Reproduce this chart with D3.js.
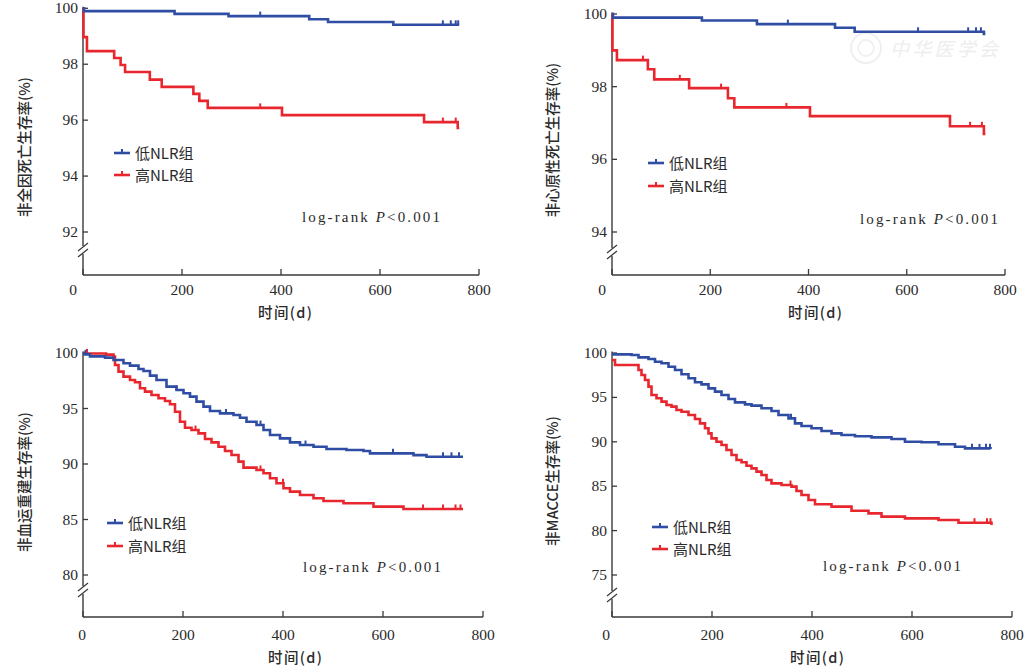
<!DOCTYPE html>
<html>
<head>
<meta charset="utf-8">
<script src="https://cdn.jsdelivr.net/npm/d3@7"></script>
<style>
  html, body { margin: 0; padding: 0; background: #fff; }
  svg { display: block; }
</style>
</head>
<body>
<svg id="chart" width="1031" height="670"></svg>
<script>
// ---------------- DATA ----------------
const xTickValues = [0, 200, 400, 600, 800];
const legendLabels = ["低NLR组", "高NLR组"];
const xTitle = "时间(d)";
const pText = "log-rank ";

// Panel 1: 非全因死亡生存率
const p1Label = "非全因死亡生存率(%)";
const p1YTicks = [92, 94, 96, 98, 100];
const p1LowT = [0, 2, 185, 294, 457, 495, 627, 760];
const p1LowS = [100, 99.9, 99.8, 99.72, 99.61, 99.51, 99.41, 99.41];
const p1LowCensor = [358, 727, 743, 753, 758];
const p1HighT = [0, 1, 8, 63, 76, 85, 135, 159, 223, 235, 252, 402, 689, 757, 760];
const p1HighS = [100, 98.97, 98.47, 98.22, 97.97, 97.72, 97.45, 97.19, 96.94, 96.69, 96.44, 96.18, 95.93, 95.72, 95.72];
const p1HighCensor = [358, 727, 753];

// Panel 2: 非心原性死亡生存率
const p2Label = "非心原性死亡生存率(%)";
const p2YTicks = [94, 96, 98, 100];
const p2LowT = [0, 2, 183, 295, 454, 494, 757, 760];
const p2LowS = [100, 99.9, 99.82, 99.72, 99.62, 99.51, 99.45, 99.45];
const p2LowCensor = [358, 623, 725, 741, 751];
const p2HighT = [0, 1, 10, 73, 86, 157, 236, 249, 403, 688, 757, 760];
const p2HighS = [100, 99.0, 98.73, 98.48, 98.2, 97.96, 97.68, 97.43, 97.19, 96.91, 96.7, 96.7];
const p2HighCensor = [63, 138, 222, 355, 729, 753];

// Panel 3: 非血运重建生存率
const p3Label = "非血运重建生存率(%)";
const p3YTicks = [80, 85, 90, 95, 100];
const p3LowT = [0, 3, 14, 44, 61, 81, 94, 111, 121, 134, 147, 167, 187, 201, 214, 227, 241, 254, 274, 301, 314, 327, 347, 361, 374, 394, 414, 434, 461, 487, 527, 561, 574, 661, 687, 760];
const p3LowS = [100, 99.88, 99.7, 99.58, 99.37, 99.07, 98.86, 98.56, 98.38, 97.96, 97.57, 96.97, 96.67, 96.37, 96.07, 95.62, 95.17, 94.77, 94.56, 94.41, 94.17, 93.81, 93.51, 93.06, 92.61, 92.31, 91.95, 91.71, 91.56, 91.35, 91.26, 91.17, 90.96, 90.8, 90.65, 90.65];
const p3LowCensor = [5, 187, 286, 355, 445, 620, 720, 737, 752];
const p3HighT = [0, 8, 46, 61, 64, 71, 81, 94, 104, 114, 124, 137, 151, 164, 174, 184, 194, 204, 217, 231, 244, 257, 271, 284, 297, 311, 321, 347, 361, 374, 387, 401, 414, 434, 461, 481, 521, 581, 641, 760];
const p3HighS = [100, 99.95, 99.85, 99.67, 98.92, 98.32, 97.87, 97.57, 97.36, 96.82, 96.52, 96.22, 95.92, 95.68, 95.38, 94.71, 93.81, 93.27, 93.06, 92.76, 92.25, 91.95, 91.56, 91.17, 90.81, 90.21, 89.67, 89.46, 89.16, 88.71, 88.26, 87.81, 87.51, 87.21, 86.91, 86.67, 86.46, 86.16, 85.95, 85.95];
const p3HighCensor = [8, 225, 355, 400, 680, 720, 745, 755];

// Panel 4: 非MACCE生存率
const p4Label = "非MACCE生存率(%)";
const p4YTicks = [75, 80, 85, 90, 95, 100];
const p4LowT = [0, 39, 53, 73, 86, 99, 113, 126, 139, 153, 166, 179, 193, 206, 219, 233, 246, 266, 279, 299, 319, 333, 353, 366, 379, 399, 419, 439, 459, 486, 519, 559, 586, 619, 653, 686, 706, 757];
const p4LowS = [99.85, 99.77, 99.51, 99.32, 99.02, 98.84, 98.46, 98.09, 97.6, 97.15, 96.7, 96.47, 96.02, 95.65, 95.27, 94.82, 94.44, 94.22, 94.07, 93.77, 93.47, 93.02, 92.64, 92.08, 91.78, 91.52, 91.22, 90.95, 90.77, 90.62, 90.5, 90.32, 90.01, 89.95, 89.72, 89.45, 89.26, 89.2];
const p4LowCensor = [358, 720, 735, 748, 756];
const p4HighT = [0, 6, 43, 53, 59, 66, 73, 79, 89, 99, 109, 119, 129, 139, 153, 166, 176, 186, 193, 199, 209, 219, 229, 239, 249, 259, 269, 279, 289, 299, 309, 319, 339, 359, 369, 379, 393, 406, 439, 479, 513, 539, 586, 653, 693, 759];
const p4HighS = [99.21, 98.65, 98.65, 98.09, 97.52, 96.96, 96.21, 95.27, 94.9, 94.52, 94.14, 93.96, 93.58, 93.39, 93.02, 92.57, 92.08, 91.52, 90.95, 90.39, 90.01, 89.64, 89.08, 88.51, 87.95, 87.69, 87.31, 87.01, 86.64, 86.26, 85.7, 85.32, 85.14, 84.95, 84.46, 84.01, 83.45, 82.96, 82.7, 82.24, 81.94, 81.57, 81.38, 81.19, 80.89, 80.63];
const p4HighCensor = [357, 725, 750, 757];

// ---------------- LAYOUT ----------------
const BLUE = "#2f4da3";
const RED = "#e8262e";
const AXIS = "#3a3a3a";

const panels = [
  { label: p1Label, yTicks: p1YTicks, low: [p1LowT, p1LowS, p1LowCensor], high: [p1HighT, p1HighS, p1HighCensor],
    x0: 83, x1: 479, yTopVal: 100, yTopPx: 8.3, yBotVal: 92, yBotPx: 232, axisY: 275, breakY: 250,
    zeroShift: -10, tickLblDy: 15, titleY: 313, titleX: 285, ylabX: 25, ylabY: 147,
    legX: 114, legY: 153, legGap: 22, prX: 302, prY: 217 },
  { label: p2Label, yTicks: p2YTicks, low: [p2LowT, p2LowS, p2LowCensor], high: [p2HighT, p2HighS, p2HighCensor],
    x0: 612, x1: 1005, yTopVal: 100, yTopPx: 14, yBotVal: 94, yBotPx: 232, axisY: 275, breakY: 252,
    zeroShift: -10, tickLblDy: 15, titleY: 313, titleX: 815, ylabX: 553, ylabY: 140,
    legX: 648, legY: 163, legGap: 23, prX: 860, prY: 219, watermark: true },
  { label: p3Label, yTicks: p3YTicks, low: [p3LowT, p3LowS, p3LowCensor], high: [p3HighT, p3HighS, p3HighCensor],
    x0: 83, x1: 483, yTopVal: 100, yTopPx: 353, yBotVal: 80, yBotPx: 575, axisY: 617, breakY: 590,
    zeroShift: -1, tickLblDy: 18, titleY: 658, titleX: 295, ylabX: 25, ylabY: 482,
    legX: 107, legY: 523, legGap: 23, prX: 303, prY: 567 },
  { label: p4Label, yTicks: p4YTicks, low: [p4LowT, p4LowS, p4LowCensor], high: [p4HighT, p4HighS, p4HighCensor],
    x0: 612, x1: 1012, yTopVal: 100, yTopPx: 353, yBotVal: 75, yBotPx: 575, axisY: 617, breakY: 595,
    zeroShift: -6, tickLblDy: 18, titleY: 658, titleX: 817, ylabX: 553, ylabY: 481,
    legX: 652, legY: 527, legGap: 22, prX: 823, prY: 566 }
];

const svg = d3.select("#chart");
const NUMFONT = "'Liberation Serif', 'DejaVu Serif', serif";
const CJKFONT = "'Noto Sans CJK SC', 'Noto Sans', sans-serif";

function survAt(T, S, t) {
  let v = S[0];
  for (let i = 0; i < T.length; i++) { if (T[i] <= t) v = S[i]; }
  return v;
}

panels.forEach(p => {
  const g = svg.append("g");
  const x = d3.scaleLinear().domain([0, 800]).range([p.x0, p.x1]);
  const y = d3.scaleLinear().domain([p.yBotVal, p.yTopVal]).range([p.yBotPx, p.yTopPx]);

  // watermark (faint)
  if (p.watermark) {
    const wm = g.append("g").attr("opacity", 0.55);
    wm.append("circle").attr("cx", 866).attr("cy", 48).attr("r", 15)
      .attr("fill", "none").attr("stroke", "#e2e2e2").attr("stroke-width", 2);
    wm.append("circle").attr("cx", 866).attr("cy", 48).attr("r", 8)
      .attr("fill", "none").attr("stroke", "#e6e6e6").attr("stroke-width", 2);
    wm.append("text").attr("x", 890).attr("y", 56).attr("font-family", CJKFONT)
      .attr("font-size", 19).attr("font-style", "italic").attr("fill", "#e0e0e0")
      .attr("textLength", 108).attr("lengthAdjust", "spacing")
      .text("中华医学会");
  }

  // y axis (with break)
  const yTopLine = y(p.yTopVal) - 1.5;
  g.append("line").attr("x1", p.x0).attr("x2", p.x0).attr("y1", yTopLine).attr("y2", p.breakY - 4)
    .attr("stroke", AXIS).attr("stroke-width", 1.4);
  g.append("line").attr("x1", p.x0).attr("x2", p.x0).attr("y1", p.breakY + 4).attr("y2", p.axisY)
    .attr("stroke", AXIS).attr("stroke-width", 1.4);
  [-3, 3].forEach(d => {
    g.append("line").attr("x1", p.x0 - 5).attr("x2", p.x0 + 5)
      .attr("y1", p.breakY + d + 4).attr("y2", p.breakY + d - 4)
      .attr("stroke", AXIS).attr("stroke-width", 1.3);
  });
  // y ticks
  p.yTicks.forEach(v => {
    g.append("line").attr("x1", p.x0).attr("x2", p.x0 + 5).attr("y1", y(v)).attr("y2", y(v))
      .attr("stroke", AXIS).attr("stroke-width", 1.3);
    g.append("text").attr("x", p.x0 - 5).attr("y", y(v) + 5).attr("text-anchor", "end")
      .attr("font-family", NUMFONT).attr("font-size", 15.5).attr("fill", "#2a2a2a").text(v);
  });

  // x axis
  g.append("line").attr("x1", p.x0).attr("x2", x(800)).attr("y1", p.axisY).attr("y2", p.axisY)
    .attr("stroke", AXIS).attr("stroke-width", 1.4);
  xTickValues.forEach(v => {
    g.append("line").attr("x1", x(v)).attr("x2", x(v)).attr("y1", p.axisY).attr("y2", p.axisY - 6)
      .attr("stroke", AXIS).attr("stroke-width", 1.3);
    g.append("text").attr("x", x(v) + (v === 0 ? p.zeroShift : 0)).attr("y", p.axisY + p.tickLblDy + 5)
      .attr("text-anchor", "middle").attr("font-family", NUMFONT).attr("font-size", 15.5)
      .attr("fill", "#2a2a2a").text(v);
  });

  // titles
  g.append("text").attr("x", p.titleX).attr("y", p.titleY + 5).attr("text-anchor", "middle")
    .attr("font-family", CJKFONT).attr("font-size", 14.5).attr("font-weight", 500).attr("fill", "#2a2a2a")
    .attr("textLength", 54).attr("lengthAdjust", "spacing")
    .text(xTitle);
  g.append("text").attr("transform", `translate(${p.ylabX + 5},${p.ylabY}) rotate(-90)`)
    .attr("text-anchor", "middle").attr("font-family", CJKFONT).attr("font-size", 14.5)
    .attr("font-weight", 500).attr("fill", "#2a2a2a").text(p.label);

  // curves
  const line = d3.line().x(d => x(d[0])).y(d => y(d[1])).curve(d3.curveStepAfter);
  [[p.high, RED], [p.low, BLUE]].forEach(([ser, col]) => {
    const [T, S, C] = ser;
    const pts = T.map((t, i) => [t, S[i]]);
    g.append("path").attr("d", line(pts)).attr("fill", "none").attr("stroke", col)
      .attr("stroke-width", 2.6).attr("stroke-linejoin", "miter");
    C.forEach(t => {
      const v = survAt(T, S, t);
      g.append("line").attr("x1", x(t)).attr("x2", x(t)).attr("y1", y(v)).attr("y2", y(v) - 4.5)
        .attr("stroke", col).attr("stroke-width", 2);
    });
  });

  // legend
  [[BLUE, legendLabels[0]], [RED, legendLabels[1]]].forEach(([col, lbl], i) => {
    const ly = p.legY + i * p.legGap;
    g.append("line").attr("x1", p.legX).attr("x2", p.legX + 16).attr("y1", ly).attr("y2", ly)
      .attr("stroke", col).attr("stroke-width", 2.6);
    g.append("line").attr("x1", p.legX + 8).attr("x2", p.legX + 8).attr("y1", ly).attr("y2", ly - 4)
      .attr("stroke", col).attr("stroke-width", 2);
    g.append("text").attr("x", p.legX + 21).attr("y", ly + 5.5).attr("font-family", CJKFONT)
      .attr("font-size", 15).attr("fill", "#2a2a2a").text(lbl);
  });

  // log-rank text
  const pt = g.append("text").attr("x", p.prX).attr("y", p.prY + 5)
    .attr("font-family", NUMFONT).attr("font-size", 15).attr("fill", "#2a2a2a")
    .attr("textLength", 138).attr("lengthAdjust", "spacing");
  pt.append("tspan").text(pText);
  pt.append("tspan").attr("font-style", "italic").text("P");
  pt.append("tspan").text("<0.001");
});
</script>
</body>
</html>
